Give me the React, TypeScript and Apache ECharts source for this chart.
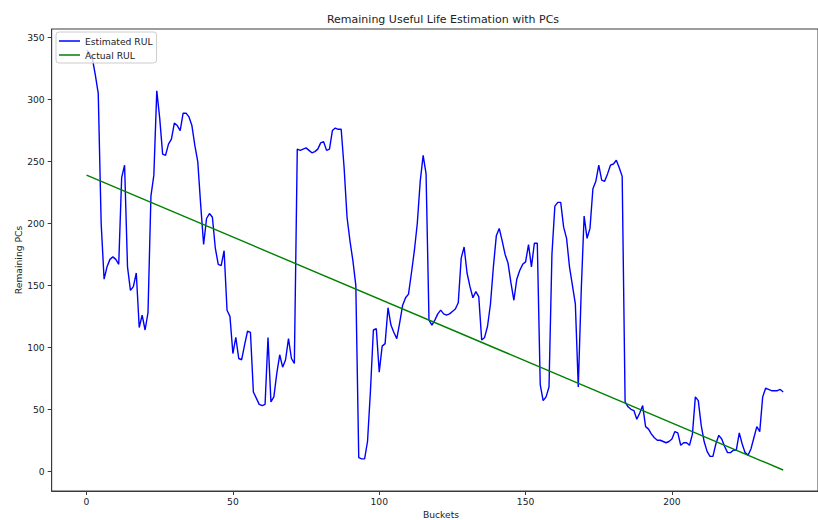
import React, { useEffect, useRef } from "react";
import * as echarts from "echarts";

const estimatedRUL: number[] = [
  340, 338, 333, 320, 305, 200, 155, 165, 171, 173,
  171, 167, 237, 247, 165, 146, 149, 160, 116, 126,
  114, 128, 222, 239, 307, 285, 256, 255, 264, 268,
  281, 279, 275, 289, 289, 286, 279, 263, 250, 215,
  183, 204, 208, 205, 180, 167, 166, 178, 130, 125,
  95, 108, 91, 90, 102, 113, 112, 64, 59, 54,
  53, 54, 108, 56, 60, 79, 94, 84, 90, 107,
  91, 87, 260, 259, 260, 261, 259, 257, 258, 260,
  265, 266, 259, 260, 275, 277, 276, 276, 245, 205,
  186, 170, 150, 11, 10, 10, 24, 65, 114, 115,
  80, 101, 103, 132, 118, 112, 107, 120, 134, 140,
  143, 160, 178, 200, 234, 255, 240, 122, 118, 122,
  127, 130, 127, 126, 127, 129, 131, 136, 172, 181,
  160, 149, 140, 145, 141, 106, 108, 117, 135, 165,
  190, 196, 186, 175, 168, 152, 138, 155, 162, 167,
  169, 183, 165, 184, 184, 70, 57, 60, 68, 175,
  214, 217, 217, 197, 188, 165, 150, 135, 68, 145,
  206, 188, 196, 228, 234, 247, 235, 234, 240, 247,
  248, 251, 245, 238, 56, 52, 50, 49, 42, 47,
  53, 36, 34, 30, 27, 25, 25, 24, 23, 24,
  26, 32, 31, 21, 23, 23, 21, 30, 60, 57,
  37, 24, 16, 12, 12, 22, 29, 26, 20, 15,
  15, 17, 17, 31, 22, 15, 13, 18, 27, 36,
  32, 60, 67, 66, 65, 65, 65, 66, 64,
];

const actualX: number[] = [0, 238];
const actualY: number[] = [239, 1];

const xTicks: number[] = [0, 50, 100, 150, 200, 250];
const yTicks: number[] = [0, 50, 100, 150, 200, 250, 300, 350];

const titleText = "Remaining Useful Life Estimation with PCs";
const xName = "Buckets";
const yName = "Remaining PCs";
const seriesNames = ["Estimated RUL", "Actual RUL"];

const FONT = "DejaVu Sans";

export default function App() {
  const ref = useRef<HTMLDivElement>(null);

  useEffect(() => {
    if (!ref.current) return;
    const chart = echarts.init(ref.current, null, { renderer: "svg" });
    const axisColor = "#3a3a3a";
    const labelStyle = { fontSize: 9.2, color: "#222", fontFamily: FONT };

    chart.setOption({
      animation: false,
      backgroundColor: "#ffffff",
      grid: {
        left: 51.7,
        top: 29,
        width: 779,
        height: 462,
        show: true,
        borderColor: axisColor,
        borderWidth: 1,
        backgroundColor: "transparent",
      },
      xAxis: {
        type: "value",
        min: -11.9,
        max: 249.9,
        axisLine: { show: true, onZero: false, lineStyle: { color: axisColor, width: 1 } },
        axisTick: { show: true, inside: false, length: 4, lineStyle: { color: axisColor }, customValues: xTicks },
        axisLabel: { ...labelStyle, margin: 6, customValues: xTicks },
        splitLine: { show: false },
      },
      yAxis: {
        type: "value",
        min: -15.95,
        max: 356.95,
        axisLine: { show: true, onZero: false, lineStyle: { color: axisColor, width: 1 } },
        axisTick: { show: true, inside: false, length: 4, lineStyle: { color: axisColor }, customValues: yTicks },
        axisLabel: { ...labelStyle, margin: 7, customValues: yTicks },
        splitLine: { show: false },
      },
      legend: {
        left: 56,
        top: 32,
        orient: "vertical",
        icon: "rect",
        itemWidth: 21,
        itemHeight: 1.5,
        itemGap: 2,
        padding: [3, 4, 2, 3],
        backgroundColor: "rgba(255,255,255,0.8)",
        borderColor: "#cccccc",
        borderWidth: 1,
        borderRadius: 3,
        textStyle: { fontSize: 9.2, fontFamily: FONT, color: "#222", lineHeight: 12 },
        data: seriesNames,
      },
      series: [
        {
          name: seriesNames[0],
          type: "line",
          data: estimatedRUL.map((v, i) => [i, v]),
          symbol: "none",
          showSymbol: false,
          lineStyle: { color: "#0000ff", width: 1.4 },
          itemStyle: { color: "#0000ff" },
          z: 2,
        },
        {
          name: seriesNames[1],
          type: "line",
          data: actualX.map((x, i) => [x, actualY[i]]),
          symbol: "none",
          showSymbol: false,
          lineStyle: { color: "#008000", width: 1.4 },
          itemStyle: { color: "#008000" },
          z: 3,
        },
      ],
      graphic: [
        {
          type: "text",
          x: 443,
          y: 19,
          style: {
            text: titleText,
            fontSize: 11,
            fontFamily: FONT,
            fill: "#222",
            textAlign: "center",
            textVerticalAlign: "middle",
          },
        },
        {
          type: "text",
          x: 441,
          y: 514,
          style: {
            text: xName,
            fontSize: 9.2,
            fontFamily: FONT,
            fill: "#222",
            textAlign: "center",
            textVerticalAlign: "middle",
          },
        },
        {
          type: "text",
          x: 18,
          y: 260,
          rotation: Math.PI / 2,
          style: {
            text: yName,
            fontSize: 9.2,
            fontFamily: FONT,
            fill: "#222",
            textAlign: "center",
            textVerticalAlign: "middle",
          },
        },
      ],
    });

    return () => {
      chart.dispose();
    };
  }, []);

  return (
    <div
      ref={ref}
      style={{ position: "fixed", left: 0, top: 0, width: 818, height: 520 }}
    />
  );
}
